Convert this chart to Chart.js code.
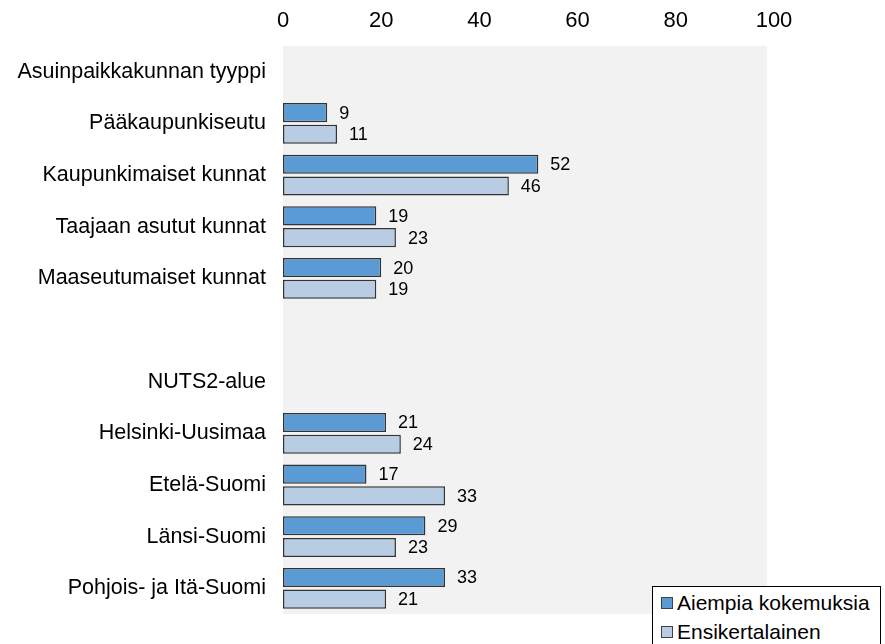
<!DOCTYPE html>
<html>
<head>
<meta charset="utf-8">
<script src="https://cdn.jsdelivr.net/npm/chart.js@4/dist/chart.umd.min.js"></script>
<style>
  body { margin: 0; background: #fff; }
  #wrap { position: relative; width: 885px; height: 644px; }
  #legend {
    position: absolute; left: 652px; top: 586px; width: 229px; height: 64px;
    border: 1px solid #000; background: #fff; box-sizing: border-box;
    font-family: "Liberation Sans", Arial, sans-serif; font-size: 21px; color: #000;
    padding: 1px 0 0 8px; line-height: 29px; white-space: nowrap;
  }
  #legend span.box {
    display: inline-block; width: 10px; height: 10px; border: 1px solid #404040;
    margin-right: 4px; vertical-align: 1px;
  }
</style>
</head>
<body>
<div id="wrap">
  <canvas id="myChart" width="885" height="644"></canvas>
  <div id="legend"></div>
</div>
<script>
// Luokat ja arvot
var categories = ['Asuinpaikkakunnan tyyppi', 'Pääkaupunkiseutu', 'Kaupunkimaiset kunnat',
  'Taajaan asutut kunnat', 'Maaseutumaiset kunnat', '', 'NUTS2-alue',
  'Helsinki-Uusimaa', 'Etelä-Suomi', 'Länsi-Suomi', 'Pohjois- ja Itä-Suomi'];
var aiempia = [null, 9, 52, 19, 20, null, null, 21, 17, 29, 33];
var ensikertalainen = [null, 11, 46, 23, 19, null, null, 24, 33, 23, 21];
var seriesNames = ['Aiempia kokemuksia', 'Ensikertalainen'];
var xTicks = [0, 20, 40, 60, 80, 100];

var FONT = '"Liberation Sans", Arial, sans-serif';

// harmaa tausta kuvaaja-alueelle
var bgPlugin = {
  id: 'bg',
  beforeDraw: function(chart) {
    var a = chart.chartArea, ctx = chart.ctx;
    ctx.save();
    ctx.fillStyle = '#f2f2f2';
    ctx.fillRect(a.left, a.top, a.right - a.left - 7, a.bottom - a.top);
    ctx.restore();
  }
};

// arvot pylväiden perään
var labelPlugin = {
  id: 'vals',
  afterDatasetsDraw: function(chart) {
    var ctx = chart.ctx;
    ctx.save();
    ctx.font = '18px ' + FONT;
    ctx.fillStyle = '#000';
    ctx.textBaseline = 'middle';
    chart.data.datasets.forEach(function(ds, i) {
      chart.getDatasetMeta(i).data.forEach(function(bar, j) {
        if (ds.data[j] == null) return;
        ctx.fillText(ds.data[j], bar.x + 12, bar.y + 1);
      });
    });
    ctx.restore();
  }
};

var ctx = document.getElementById('myChart').getContext('2d');
var chart = new Chart(ctx, {
  type: 'bar',
  data: {
    labels: categories,
    datasets: [{
      label: seriesNames[0],
      data: aiempia,
      backgroundColor: '#5b9bd5',
      borderColor: '#333333',
      borderWidth: 1.5,
      borderSkipped: false
    }, {
      label: seriesNames[1],
      data: ensikertalainen,
      backgroundColor: '#b8cce4',
      borderColor: '#333333',
      borderWidth: 1.5,
      borderSkipped: false
    }]
  },
  options: {
    indexAxis: 'y',
    responsive: false,
    animation: false,
    layout: { padding: { top: 0, right: 111, bottom: 19, left: 0 } },
    datasets: { bar: { categoryPercentage: 0.84, barPercentage: 0.88 } },
    plugins: { legend: { display: false }, tooltip: { enabled: false } },
    scales: {
      x: {
        position: 'top',
        min: 0, max: 100,
        afterBuildTicks: function(s) { s.ticks = xTicks.map(function(v) { return { value: v }; }); },
        grid: { display: false, drawTicks: false },
        border: { display: false },
        ticks: { color: '#000', font: { family: FONT, size: 22 }, padding: 12 },
        afterFit: function(s) { s.height = 46; }
      },
      y: {
        grid: { display: false, drawTicks: false },
        border: { display: false },
        ticks: { color: '#000', font: { family: FONT, size: 21.5 }, padding: 17, autoSkip: false },
        afterFit: function(s) { s.width = 283; }
      }
    }
  },
  plugins: [bgPlugin, labelPlugin]
});

// selite
var colors = ['#5b9bd5', '#b8cce4'];
document.getElementById('legend').innerHTML = seriesNames.map(function(n, i) {
  return '<div><span class="box" style="background:' + colors[i] + '"></span>' + n + '</div>';
}).join('');
</script>
</body>
</html>
